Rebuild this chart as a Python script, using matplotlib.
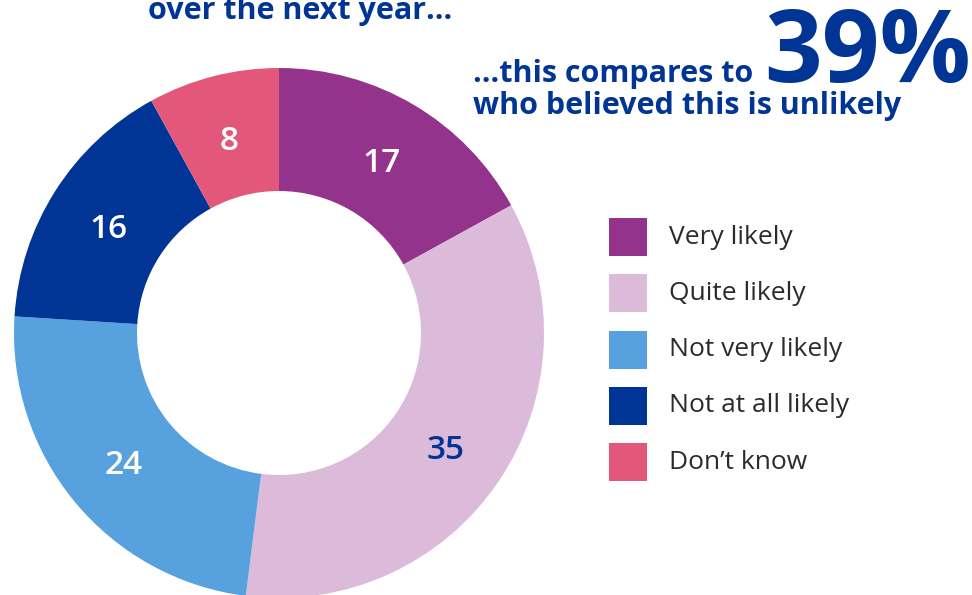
import matplotlib.pyplot as plt
import numpy as np

# dati
categorie = ['Very likely', 'Quite likely', 'Not very likely', 'Not at all likely', 'Don\u2019t know']
valori = [17, 35, 24, 16, 8]
colori = ['#93338C', '#DBBBD9', '#57A1DF', '#003595', '#E3587A']
colori_testo = ['white', '#003595', 'white', 'white', 'white']

blu = '#003595'
plt.rcParams['font.family'] = ['Open Sans', 'DejaVu Sans']

W, H = 972, 595
fig = plt.figure(figsize=(W / 100, H / 100), dpi=100)
ax = fig.add_axes([0, 0, 1, 1])

# ciambella (coordinate in pixel, y verso l'alto)
cx, cy, R = 279, H - 333, 265
spessore = 123
wedges, _ = ax.pie(valori, colors=colori, startangle=90, counterclock=False,
                   center=(cx, cy), radius=R,
                   wedgeprops=dict(width=spessore, linewidth=0))

for v, w, c in zip(valori, wedges, colori_testo):
    a = np.deg2rad((w.theta1 + w.theta2) / 2)
    r = R - spessore / 2 - 2
    ax.text(cx + r * np.cos(a), cy + r * np.sin(a), str(v), color=c,
            fontsize=24, fontweight='semibold', ha='center', va='center_baseline')

# legenda
y0 = H - 237
for i, (nome, col) in enumerate(zip(categorie, colori)):
    y = y0 - i * 56.3
    ax.add_patch(plt.Rectangle((609, y - 19), 38, 38, color=col, linewidth=0))
    ax.text(669, y, nome, fontsize=19, color='#2b2b2b', va='center', ha='left')

# titoli
ax.text(148, H - 19, 'over the next year...', fontsize=22, fontweight='bold', color=blu,
        va='baseline', ha='left')
ax.text(473, H - 82, '...this compares to', fontsize=22, fontweight='bold', color=blu,
        va='baseline', ha='left')
ax.text(764, H - 82, '39%', fontsize=73, fontweight='bold', color=blu,
        va='baseline', ha='left')
ax.text(473, H - 114, 'who believed this is unlikely', fontsize=22, fontweight='bold', color=blu,
        va='baseline', ha='left')

ax.set_xlim(0, W)
ax.set_ylim(0, H)
ax.set_aspect('equal')
ax.axis('off')

fig.savefig('out.png', dpi=100)
